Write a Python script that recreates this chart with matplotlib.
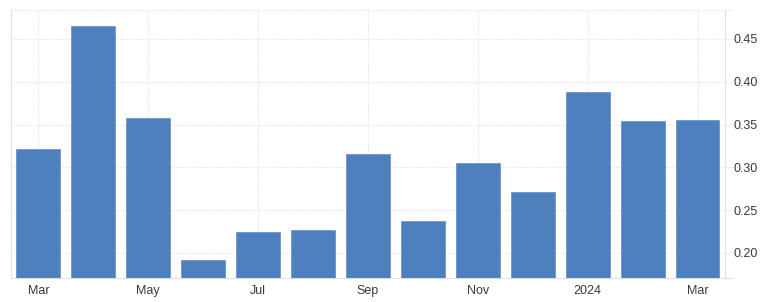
import matplotlib.pyplot as plt
import numpy as np

plt.rcParams['font.family'] = ['Liberation Sans', 'DejaVu Sans']

months = ['Mar 2023', 'Apr 2023', 'May 2023', 'Jun 2023', 'Jul 2023', 'Aug 2023',
          'Sep 2023', 'Oct 2023', 'Nov 2023', 'Dec 2023', 'Jan 2024', 'Feb 2024', 'Mar 2024']
values = [0.321, 0.465, 0.358, 0.192, 0.224, 0.227, 0.316, 0.237, 0.305, 0.271, 0.388, 0.354, 0.355]
tick_idx = [0, 2, 4, 6, 8, 10, 12]
tick_labels = ['Mar', 'May', 'Jul', 'Sep', 'Nov', '2024', 'Mar']
yticks = [0.20, 0.25, 0.30, 0.35, 0.40, 0.45]

fig = plt.figure(figsize=(7.68, 3.02), dpi=100)
ax = fig.add_axes([0.0143, 0.0795, 0.9297, 0.888])

x = np.arange(len(months))
ax.bar(x, values, width=0.8, color='#4d80bc', edgecolor='#6f97c9', linewidth=0.6, zorder=3)

ymin, ymax = 0.1708, 0.4839
ax.set_xlim(-0.5, len(months) - 0.5)
ax.set_ylim(ymin, ymax)
ax.set_xticks(tick_idx)
ax.set_xticklabels(tick_labels)
ax.set_yticks(yticks)
ax.set_yticklabels(['%.2f' % v for v in yticks])
ax.yaxis.tick_right()
ax.tick_params(axis='both', length=0, labelsize=9, colors='#3a3a3a')
ax.tick_params(axis='y', pad=6)
ax.tick_params(axis='x', pad=5)

ax.grid(True, color='#e4e4e4', linestyle=(0, (1, 1)), linewidth=0.8, zorder=0)
for s in ['top', 'bottom']:
    ax.spines[s].set_visible(False)
ax.spines['left'].set_color('#e0e0e0')
ax.spines['right'].set_color('#e0e0e0')

# grid lines run a little past the right border
xr = len(months) - 0.5
ax.hlines(yticks + [ymax], xr, xr + 0.15, color='#e4e4e4', linestyle=(0, (1, 1)),
          linewidth=0.8, clip_on=False)
ax.hlines([ymax], -0.5, xr, color='#e4e4e4', linestyle=(0, (1, 1)), linewidth=0.8)
ax.hlines([ymin], -0.5, xr + 0.15, color='#e0e0e0', linewidth=0.8, clip_on=False)

fig.savefig('out.png', dpi=100)
